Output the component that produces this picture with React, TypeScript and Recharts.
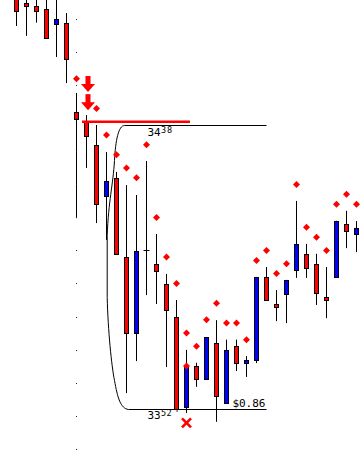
import React from 'react';
import { ComposedChart, Bar, Scatter, XAxis, YAxis, ReferenceArea, ReferenceLine, ReferenceDot } from 'recharts';

// candle prices, one entry per bar (left to right)
const opens = [34.78, 34.75, 34.74, 34.73, 34.686, 34.689, 34.419, 34.389, 34.319, 34.165, 34.22, 33.98, 33.75, 34.0, 33.959, 33.898, 33.799, 33.526, 33.65, 33.611, 33.72, 33.538, 33.71, 33.659, 33.668, 33.92, 33.838, 33.868, 33.941, 33.99, 33.96, 33.859, 33.92, 34.08, 34.05];
const highs = [34.8, 34.79, 34.79, 34.8, 34.8, 34.719, 34.477, 34.41, 34.38, 34.298, 34.238, 34.198, 34.168, 34.271, 34.05, 33.929, 33.85, 33.699, 33.66, 33.738, 33.789, 33.73, 33.73, 33.68, 33.92, 33.95, 33.88, 33.911, 34.15, 34.02, 33.99, 33.95, 34.09, 34.12, 34.089];
const lows = [34.68, 34.65, 34.69, 34.645, 34.586, 34.507, 34.098, 34.25, 34.083, 34.032, 33.989, 33.568, 33.665, 33.865, 33.838, 33.647, 33.52, 33.508, 33.587, 33.611, 33.481, 33.538, 33.635, 33.617, 33.659, 33.85, 33.786, 33.78, 33.917, 33.917, 33.835, 33.795, 33.92, 34.007, 33.995];
const closes = [34.725, 34.74, 34.725, 34.645, 34.701, 34.58, 34.398, 34.347, 34.141, 34.21, 33.989, 33.75, 33.998, 34.0, 33.938, 33.82, 33.52, 33.65, 33.611, 33.738, 33.559, 33.699, 33.659, 33.668, 33.92, 33.85, 33.829, 33.911, 34.02, 33.947, 33.87, 33.85, 34.09, 34.059, 34.068];

// stop-and-reverse dots
const sarBars = [6, 8, 9, 10, 11, 12, 13, 14, 15, 16, 17, 17, 18, 19, 20, 21, 22, 23, 24, 25, 26, 27, 28, 29, 30, 31, 32, 33, 34];
const sarValues = [34.52, 34.43, 34.35, 34.29, 34.25, 34.22, 34.32, 34.1, 33.98, 33.9, 33.75, 33.65, 33.71, 33.79, 33.84, 33.78, 33.78, 33.73, 33.97, 34.0, 33.93, 33.96, 34.2, 34.07, 34.04, 34.0, 34.14, 34.17, 34.14];

const gridLevels = [33.4, 33.5, 33.6, 33.7, 33.8, 33.9, 34.0, 34.1, 34.2, 34.3, 34.4, 34.5, 34.6, 34.7];
const gridBar = 6;

const rangeTop = 34.38;
const rangeBottom = 33.52;
const rangeFrom = 9;
const rangeTo = 25;

const stopLevel = 34.39;
const stopFrom = 6.55;
const stopTo = 17.35;

const arrowBar = 7.15;
const arrowTips = [34.48, 34.425];
const crossBar = 17;
const crossLevel = 33.478;

const candles = opens.map((open, i) => ({ i, open, high: highs[i], low: lows[i], close: closes[i] }));
const sarData = sarBars.map((i, k) => ({ i, v: sarValues[k] }));

const RED = '#ff0000';
const BLUE = '#0000ff';
const mono = '"DejaVu Sans Mono", monospace';

const Candle = (props: any) => {
  const { x, y, width, height, payload } = props;
  const { open, close, high, low } = payload;
  const top = Math.min(y, y + height);
  const h = Math.abs(height);
  const ppu = h / (high - low);
  const toY = (p: number) => top + (high - p) * ppu;
  const cx = Math.floor(x + width / 2) + 0.5;
  const yo = Math.round(toY(open)) + 0.5;
  const yc = Math.round(toY(close)) + 0.5;
  const bTop = Math.min(yo, yc);
  const bBot = Math.max(yo, yc);
  const fill = close >= open ? BLUE : RED;
  return (
    <g>
      <line x1={cx} x2={cx} y1={toY(high)} y2={toY(low)} stroke="#000" strokeWidth={1} />
      {bBot - bTop < 1 ? (
        <line x1={cx - 3} x2={cx + 3} y1={bTop} y2={bTop} stroke="#000" strokeWidth={1} />
      ) : (
        <rect x={cx - 2} y={bTop} width={4} height={bBot - bTop} fill={fill} stroke="#000" strokeWidth={1} />
      )}
    </g>
  );
};

const Diamond = (props: any) => {
  const { cx, cy } = props;
  const r = 3.5;
  return <polygon points={`${cx},${cy - r} ${cx + r},${cy} ${cx},${cy + r} ${cx - r},${cy}`} fill={RED} />;
};

const GridDot = (props: any) => (
  <rect x={Math.floor(props.cx)} y={Math.round(props.cy)} width={1} height={1} fill="#222" />
);

const Arrow = (props: any) => {
  const { cx, cy } = props;
  return (
    <g fill={RED}>
      <rect x={cx - 2.5} y={cy - 16} width={5} height={9} />
      <polygon points={`${cx - 7},${cy - 8} ${cx + 7},${cy - 8} ${cx},${cy}`} />
    </g>
  );
};

const Cross = (props: any) => {
  const { cx, cy } = props;
  const s = 4.5;
  return (
    <g stroke={RED} strokeWidth={2.6}>
      <line x1={cx - s} y1={cy - s} x2={cx + s} y2={cy + s} />
      <line x1={cx - s} y1={cy + s} x2={cx + s} y2={cy - s} />
    </g>
  );
};

const split = (p: number) => p.toFixed(2).split('.');

const Bracket = (props: any) => {
  const { x, y, width, height } = props;
  const l = x;
  const t = Math.round(y) + 0.5;
  const b = Math.round(y + height) + 0.5;
  const r = x + width;
  const d = [
    `M ${r} ${t} L ${l + 18} ${t}`,
    `C ${l + 12} ${t} ${l + 9} ${t + 15} ${l + 8} ${t + 35}`,
    `C ${l + 6.5} ${t + 60} ${l + 2} ${t + 75} ${l + 0.7} ${t + 110}`,
    `L ${l + 0.7} ${b - 112}`,
    `C ${l + 1.5} ${b - 79} ${l + 5} ${b - 44} ${l + 8} ${b - 29}`,
    `C ${l + 11} ${b - 12} ${l + 14} ${b - 1} ${l + 22} ${b}`,
    `L ${r} ${b}`,
  ].join(' ');
  const [tA, tB] = split(rangeTop);
  const [bA, bB] = split(rangeBottom);
  const diff = '$' + (rangeTop - rangeBottom).toFixed(2);
  return (
    <g>
      <path d={d} fill="none" stroke="#000" strokeWidth={1} />
      <g fontFamily={mono} fill="#000">
        <text x={l + 41} y={t + 10} fontSize={11}>{tA}</text>
        <text x={l + 54.5} y={t + 7} fontSize={8.5} letterSpacing={1}>{tB}</text>
        <text x={l + 41} y={b + 9.5} fontSize={11}>{bA}</text>
        <text x={l + 54.5} y={b + 6} fontSize={8.5} letterSpacing={0.5}>{bB}</text>
        <text x={l + 67.5} y={b + 7} fontSize={10}>'</text>
        <text x={r - 1} y={b - 3} fontSize={11} textAnchor="end">{diff}</text>
      </g>
    </g>
  );
};

export default function App() {
  return (
    <div style={{ position: 'absolute', left: 0, top: 0, background: '#fff' }}>
      <ComposedChart width={364} height={458} data={candles} margin={{ top: 0, right: 0, bottom: 0, left: 0 }}>
        <XAxis type="number" dataKey="i" domain={[-1.65, 34.75]} allowDataOverflow hide />
        <YAxis type="number" domain={[33.3715, 34.7586]} allowDataOverflow hide />
        {gridLevels.map((lv) => (
          <ReferenceDot key={lv} x={gridBar} y={lv} shape={GridDot} ifOverflow="visible" />
        ))}
        <Scatter data={sarData} dataKey="v" shape={Diamond} isAnimationActive={false} />
        <Bar dataKey={(d: any) => [d.low, d.high]} shape={Candle} isAnimationActive={false} />
        <ReferenceArea x1={rangeFrom} x2={rangeTo} y1={rangeBottom} y2={rangeTop} shape={Bracket} ifOverflow="visible" />
        <ReferenceLine
          segment={[{ x: stopFrom, y: stopLevel }, { x: stopTo, y: stopLevel }]}
          stroke={RED}
          strokeWidth={2.5}
          ifOverflow="visible"
        />
        {arrowTips.map((p) => (
          <ReferenceDot key={p} x={arrowBar} y={p} shape={Arrow} ifOverflow="visible" />
        ))}
        <ReferenceDot x={crossBar} y={crossLevel} shape={Cross} ifOverflow="visible" />
      </ComposedChart>
    </div>
  );
}
